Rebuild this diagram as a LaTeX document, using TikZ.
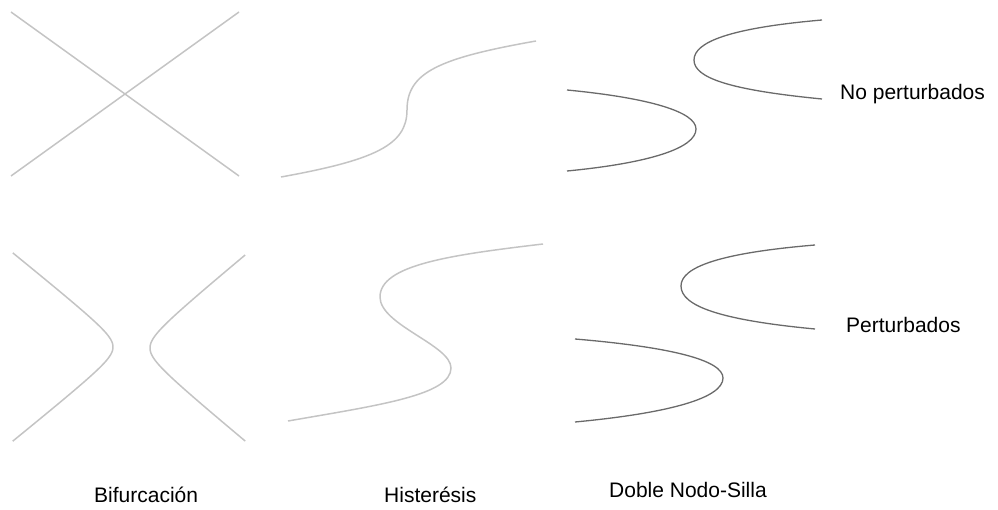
\documentclass[tikz,border=0pt]{standalone}
\usepackage{fontspec}
\setmainfont{Liberation Sans}
\definecolor{lightln}{HTML}{C4C4C4}
\definecolor{darkln}{HTML}{6A6A6A}
\begin{document}
\begin{tikzpicture}[x=1pt,y=-1pt,
  light/.style={draw=lightln,line width=1.5pt},
  dark/.style={draw=darkln,line width=1.3pt},
  lbl/.style={font=\fontsize{21}{25}\selectfont,inner sep=0pt,anchor=base west}]
\useasboundingbox (0,0) rectangle (998,510);
% Bifurcacion (no perturbado)
\coordinate (b1) at (11,12); \coordinate (b2) at (239,176);
\coordinate (b3) at (11,176); \coordinate (b4) at (239,12);
\draw[light] (b1) -- (b2);
\draw[light] (b3) -- (b4);
% Bifurcacion (perturbado)
\draw[light] plot[domain=-2.57:2.57,samples=100,variable=\t] ({131-18*cosh(\t)},{347-14.5*sinh(\t)});
\draw[light] plot[domain=-2.48:2.48,samples=100,variable=\t] ({131+19*cosh(\t)},{348-15.7*sinh(\t)});
% Histeresis (no perturbado)
\coordinate (h1) at (281,177); \coordinate (h2) at (407,110); \coordinate (h3) at (536,41);
\draw[light] (h1) .. controls (375,160) and (407,145) .. (h2)
  .. controls (407,72) and (440,58) .. (h3);
% Histeresis (perturbado)
\coordinate (g1) at (288,421); \coordinate (g2) at (451,368);
\coordinate (g3) at (380,297); \coordinate (g4) at (543,244);
\draw[light] (g1) .. controls (380,405) and (451,395) .. (g2)
  .. controls (451,345) and (380,325) .. (g3)
  .. controls (380,265) and (450,255) .. (g4);
% Doble nodo-silla (no perturbado)
\coordinate (d1) at (822,20); \coordinate (d2) at (694,60); \coordinate (d3) at (822,99);
\draw[dark] (d1) .. controls (730,28) and (694,42) .. (d2)
  .. controls (694,78) and (730,90) .. (d3);
\coordinate (e1) at (567,90); \coordinate (e2) at (696,129); \coordinate (e3) at (567,171);
\draw[dark] (e1) .. controls (650,98) and (696,112) .. (e2)
  .. controls (696,148) and (650,163) .. (e3);
% Doble nodo-silla (perturbado)
\coordinate (f1) at (815,245); \coordinate (f2) at (681,286); \coordinate (f3) at (815,329);
\draw[dark] (f1) .. controls (720,253) and (681,267) .. (f2)
  .. controls (681,306) and (720,320) .. (f3);
\coordinate (k1) at (575,339); \coordinate (k2) at (723,378); \coordinate (k3) at (575,422);
\draw[dark] (k1) .. controls (670,347) and (723,360) .. (k2)
  .. controls (723,398) and (670,413) .. (k3);
% labels
\node[lbl] (np) at (840,100) {No perturbados};
\node[lbl] (pp) at (846,333) {Perturbados};
\node[lbl] (lb) at (94,502) {Bifurcación};
\node[lbl] (lh) at (384,502) {Histerésis};
\node[lbl] (ld) at (609,497) {Doble Nodo-Silla};
\end{tikzpicture}
\end{document}
